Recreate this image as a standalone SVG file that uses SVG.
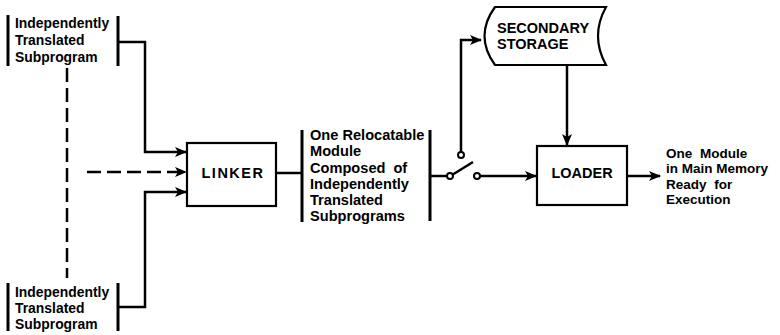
<svg xmlns="http://www.w3.org/2000/svg" width="780" height="335" viewBox="0 0 780 335">
<defs>
<marker id="ah" markerWidth="12" markerHeight="10" refX="11" refY="5" orient="auto" markerUnits="userSpaceOnUse">
<path d="M0,0 L12,5 L0,10 L3,5 Z" fill="#000"/>
</marker>
<style>
.t{font-family:"Liberation Sans",Arial,sans-serif;font-weight:bold;fill:#000}
.s{font-size:13.9px}
.r{font-size:13.5px}
.m{font-size:14.6px}
.b{font-size:14.5px}
.ln{stroke:#000;stroke-width:2.5;fill:none}
.bar{stroke:#000;stroke-width:3;fill:none}
.box{stroke:#000;stroke-width:2.2;fill:#fff}
.dash{stroke-dasharray:14 6}
.sw{stroke:#000;stroke-width:2;fill:#fff}
</style>
</defs>
<rect width="780" height="335" fill="#fff"/>

<g id="sub1">
<line class="bar" x1="8" y1="15" x2="8" y2="66"/>
<line class="bar" x1="118" y1="16" x2="118" y2="66"/>
<text class="t s" x="15" y="28">Independently</text>
<text class="t s" x="15" y="45">Translated</text>
<text class="t s" x="15" y="62">Subprogram</text>
</g>

<g id="sub2">
<line class="bar" x1="8" y1="283" x2="8" y2="331"/>
<line class="bar" x1="118" y1="283" x2="118" y2="331"/>
<text class="t s" x="15" y="296.5">Independently</text>
<text class="t s" x="15" y="312.5">Translated</text>
<text class="t s" x="15" y="328.5">Subprogram</text>
</g>

<g id="linker">
<rect class="box" x="187" y="143" width="89" height="63"/>
<text class="t b" x="233" y="178" text-anchor="middle" letter-spacing="1.5">LINKER</text>
</g>

<g id="module">
<line class="bar" x1="302" y1="130" x2="302" y2="222"/>
<line class="bar" x1="430" y1="130" x2="430" y2="221"/>
<text class="t m" x="310" y="139.5">One Relocatable</text>
<text class="t m" x="310" y="156">Module</text>
<text class="t m" x="310" y="172.5" word-spacing="4">Composed of</text>
<text class="t m" x="310" y="189">Independently</text>
<text class="t m" x="310" y="205">Translated</text>
<text class="t m" x="310" y="221">Subprograms</text>
</g>

<g id="storage">
<path class="box" d="M495,7 L606,7 Q590,36 606,65 L495,65 Q474,36 495,7 Z"/>
<text class="t b" x="497" y="33">SECONDARY</text>
<text class="t b" x="497" y="49">STORAGE</text>
</g>

<g id="loader">
<rect class="box" x="537" y="146" width="90" height="59"/>
<text class="t b" x="582" y="178" text-anchor="middle">LOADER</text>
</g>

<g id="output">
<text class="t r" x="666" y="157.5" word-spacing="4">One Module</text>
<text class="t r" x="666" y="173">in Main Memory</text>
<text class="t r" x="666" y="188.5" word-spacing="4">Ready for</text>
<text class="t r" x="666" y="204">Execution</text>
</g>

<g id="connectors">
<line class="ln dash" x1="67" y1="68" x2="67" y2="278"/>
<polyline class="ln" points="118,42 145,42 145,152 186,152" marker-end="url(#ah)"/>
<polyline class="ln" points="118,307 145,307 145,192 186,192" marker-end="url(#ah)"/>
<line class="ln dash" x1="87" y1="172" x2="186" y2="172" marker-end="url(#ah)"/>
<line class="ln" x1="276" y1="173" x2="302" y2="173"/>
<line class="ln" x1="430" y1="176" x2="447" y2="176"/>
<line class="ln" x1="452" y1="175" x2="473" y2="162"/>
<polyline class="ln" points="461,152 461,40 481,40" marker-end="url(#ah)"/>
<line class="ln" x1="480" y1="176" x2="536" y2="176" marker-end="url(#ah)"/>
<line class="ln" x1="567" y1="65" x2="567" y2="145" marker-end="url(#ah)"/>
<line class="ln" x1="627" y1="176" x2="660" y2="176" marker-end="url(#ah)"/>
<circle class="sw" cx="450" cy="176" r="3"/>
<circle class="sw" cx="461" cy="155" r="3"/>
<circle class="sw" cx="477" cy="176" r="3"/>
</g>
</svg>
